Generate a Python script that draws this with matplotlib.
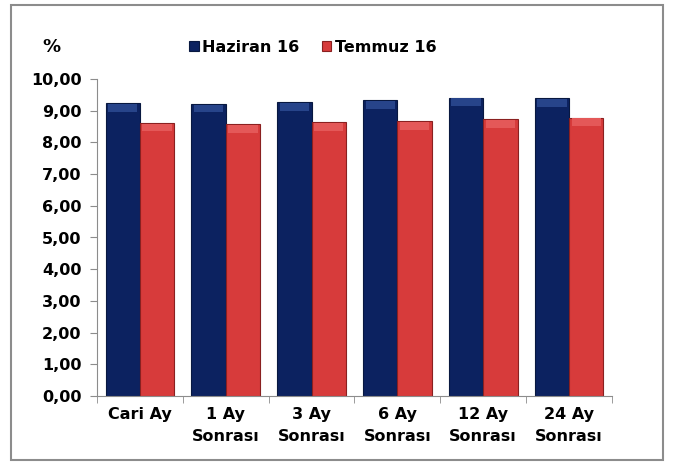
import matplotlib.pyplot as plt
import numpy as np
from matplotlib.patches import Rectangle

plt.rcParams["font.family"] = "DejaVu Sans"
plt.rcParams["font.weight"] = "bold"

categories = ["Cari Ay", "1 Ay\nSonrası", "3 Ay\nSonrası", "6 Ay\nSonrası",
              "12 Ay\nSonrası", "24 Ay\nSonrası"]
haziran = [9.23, 9.22, 9.27, 9.33, 9.41, 9.39]
temmuz = [8.62, 8.58, 8.64, 8.68, 8.74, 8.78]
yticks = np.arange(0, 10.5, 1)

fig = plt.figure(figsize=(6.73, 4.65), dpi=100)
ax = fig.add_axes([97 / 673, 69 / 465, 515 / 673, 317 / 465])

# outer frame
fig.patches.append(Rectangle((11 / 673, 5 / 465), 652 / 673, 455 / 465,
                             transform=fig.transFigure, fill=False,
                             edgecolor="#8c8c8c", linewidth=1.5))

x = np.arange(len(categories))
w = 0.4
ax.bar(x - w / 2, haziran, w, color="#0c2260", edgecolor="#081840",
       linewidth=0.8, label="Haziran 16")
ax.bar(x + w / 2, temmuz, w, color="#d73b3b", edgecolor="#8a2020",
       linewidth=0.8, label="Temmuz 16")
# lighter cap to hint at the bevelled look
cap = 0.25
ax.bar(x - w / 2, cap, w * 0.85, bottom=np.array(haziran) - cap * 1.1,
       color="#27448a", linewidth=0)
ax.bar(x + w / 2, cap, w * 0.85, bottom=np.array(temmuz) - cap * 1.1,
       color="#e45858", linewidth=0)

ax.set_xlim(-0.5, len(categories) - 0.5)
ax.set_ylim(0, 10)
ax.set_yticks(yticks)
ax.set_yticklabels([f"{v:.2f}".replace(".", ",") for v in yticks])
ax.set_xticks(x)
ax.set_xticklabels(categories)
ax.set_xticks(np.arange(-0.5, len(categories)), minor=True)
ax.tick_params(axis="x", which="major", length=0, pad=8, labelsize=11.5)
ax.tick_params(axis="x", which="minor", length=5, color="#8c8c8c")
ax.tick_params(axis="y", length=5, color="#8c8c8c", labelsize=11.5, pad=6)
for lbl in ax.get_xticklabels():
    lbl.set_linespacing(1.55)

for s in ["top", "right"]:
    ax.spines[s].set_visible(False)
for s in ["left", "bottom"]:
    ax.spines[s].set_color("#8c8c8c")

fig.text(42 / 673, 1 - 47 / 465, "%", fontsize=13, fontweight="bold", va="center")
ax.legend(loc="center left", bbox_to_anchor=(86 / 515, 1 + (396 - 47 - 317) / 317),
          ncol=2, frameon=False, fontsize=11.5, handlelength=0.6, handleheight=0.6,
          handletextpad=0.2, columnspacing=1.4, borderaxespad=0)

fig.savefig("out.png", dpi=100)
